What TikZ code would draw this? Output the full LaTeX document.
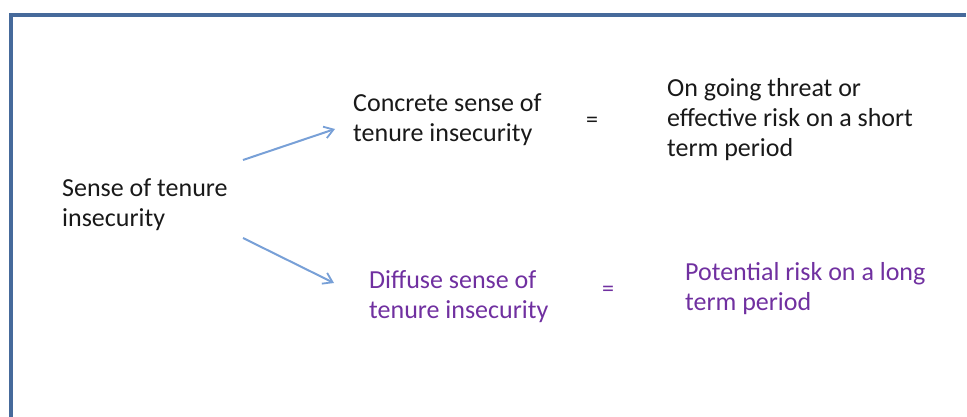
\documentclass[tikz,border=0pt]{standalone}
\usepackage{fontspec}
\setmainfont{Carlito}
\usetikzlibrary{arrows.meta}
\definecolor{framec}{RGB}{70,106,155}
\definecolor{arrc}{RGB}{120,160,215}
\definecolor{purp}{RGB}{112,48,160}
\definecolor{txt}{RGB}{25,25,25}
\tikzset{
  lbl/.style={anchor=base west, inner sep=0pt, align=left, font=\fontsize{26}{30}\selectfont, text=txt},
  plbl/.style={lbl, text=purp},
  eq/.style={inner sep=0pt, font=\fontsize{24}{24}\selectfont},
  conn/.style={draw=arrc, line width=2pt, -{Straight Barb[length=9pt,width=12pt,line width=1.8pt]}},
}
\begin{document}
\begin{tikzpicture}[x=1pt,y=-1pt]
\useasboundingbox (0,0) rectangle (967,417);
\draw[framec, line width=3.5pt] (11,417) -- (11,15) -- (966,15);
\node[lbl] (sense) at (62,226) {Sense of tenure\\insecurity};
\node[lbl] (conc) at (353,142) {Concrete sense of\\tenure insecurity};
\node[lbl] (ongo) at (667,157) {On going threat or\\effective risk on a short\\term period};
\node[plbl] (diff) at (369,318) {Diffuse sense of\\tenure insecurity};
\node[plbl] (pot) at (685,310) {Potential risk on a long\\term period};
\node[eq, text=txt] (eq1) at (592,122) {=};
\node[eq, text=purp] (eq2) at (608,291) {=};
\coordinate (a1s) at (243,160);
\coordinate (a1e) at (335,129);
\coordinate (a2s) at (243,238);
\coordinate (a2e) at (334,283);
\draw[conn] (a1s) -- (a1e);
\draw[conn] (a2s) -- (a2e);
\end{tikzpicture}
\end{document}
